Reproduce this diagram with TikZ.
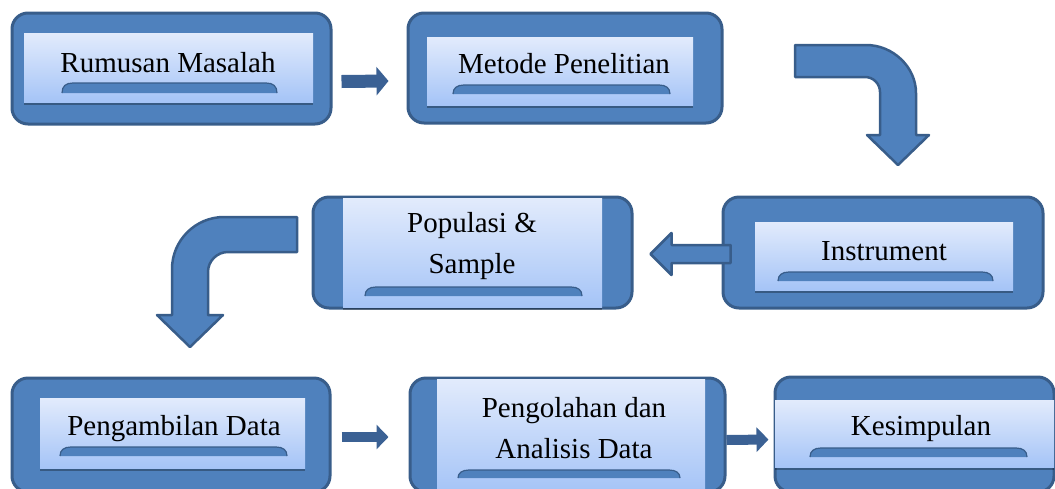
\documentclass[tikz,border=0pt]{standalone}
\usepackage{fontspec}
\setmainfont{Liberation Serif}
\usetikzlibrary{arrows.meta,calc,shadows}
\definecolor{outerfill}{HTML}{4F81BD}
\definecolor{darkline}{HTML}{385D8A}
\definecolor{innertop}{HTML}{E2EBFC}
\definecolor{innerbot}{HTML}{A5C4F7}
\definecolor{arrowcol}{HTML}{3B6194}
\tikzset{
  outerbox/.style={draw=darkline, line width=3pt, fill=outerfill, rounded corners=16pt, inner sep=0pt},
  innerbox/.style={top color=innertop, bottom color=innerbot, inner sep=0pt, draw=none,
    drop shadow={shadow xshift=0pt, shadow yshift=-2.5pt, opacity=0.3, fill=black}},
  tabfill/.style={fill=outerfill},
  tabline/.style={draw=darkline, line width=1.2pt},
  lbl/.style={font=\fontsize{29}{41}\selectfont, inner sep=0pt, align=center},
  arrowA/.style={draw=arrowcol, line width=13pt, -{Triangle[length=12pt,width=28pt]}},
  arrowB/.style={draw=arrowcol, line width=10pt, -{Triangle[length=12pt,width=24pt]}},
  blockarrow/.style={fill=outerfill, draw=darkline, line width=2.5pt, line join=round},
}
\newcommand\tabbar[4]{%
  \fill[tabfill] (#1,#4) .. controls (#1,#2+3) and (#1+4,#2) .. (#1+11,#2) -- (#3-11,#2) .. controls (#3-4,#2) and (#3,#2+3) .. (#3,#4) -- cycle;
  \draw[tabline] (#1,#4) .. controls (#1,#2+3) and (#1+4,#2) .. (#1+11,#2) -- (#3-11,#2) .. controls (#3-4,#2) and (#3,#2+3) .. (#3,#4);}
\begin{document}
\begin{tikzpicture}[x=1pt,y=-1pt]
\useasboundingbox (0,0) rectangle (1055,488);

% Box 1
\node[outerbox, minimum width=319pt, minimum height=111pt] (o1) at (171.5,68.5) {};
\node[innerbox, minimum width=289pt, minimum height=69pt] (i1) at (168.5,67.5) {};
\tabbar{62}{83}{277}{93}
\node[lbl, anchor=base] (t1) at (168,72) {Rumusan Masalah};

% Box 2
\node[outerbox, minimum width=314pt, minimum height=110pt] (o2) at (565,68) {};
\node[innerbox, minimum width=266pt, minimum height=68pt] (i2) at (560,71) {};
\tabbar{453}{85}{670}{94}
\node[lbl, anchor=base] (t2) at (564,73) {Metode Penelitian};

% Box 3
\node[outerbox, minimum width=319pt, minimum height=111pt] (o3) at (472.5,252.5) {};
\node[innerbox, minimum width=259pt, minimum height=109pt] (i3) at (472.5,252.5) {};
\tabbar{365}{287}{582}{296}
\node[lbl, anchor=base] (t3) at (472,273) {Populasi \&\\Sample};

% Box 4
\node[outerbox, minimum width=320pt, minimum height=111pt] (o4) at (883,252.5) {};
\node[innerbox, minimum width=258pt, minimum height=68pt] (i4) at (884,256) {};
\tabbar{778}{272}{993}{281}
\node[lbl, anchor=base] (t4) at (884,260) {Instrument};

% Box 5
\node[outerbox, minimum width=318pt, minimum height=114pt] (o5) at (171,435) {};
\node[innerbox, minimum width=265pt, minimum height=70pt] (i5) at (172.5,433) {};
\tabbar{60}{447}{287}{456}
\node[lbl, anchor=base] (t5) at (174,435) {Pengambilan Data};

% Box 6
\node[outerbox, minimum width=315pt, minimum height=114pt] (o6) at (567.5,435) {};
\node[innerbox, minimum width=268pt, minimum height=113pt] (i6) at (571,435.5) {};
\tabbar{458}{470}{680}{478}
\node[lbl, anchor=base] (t6) at (574,458) {Pengolahan dan\\Analisis Data};

% Box 7
\node[outerbox, minimum width=279pt, minimum height=115pt] (o7) at (914.5,434.5) {};
\node[innerbox, minimum width=279pt, minimum height=67pt] (i7) at (914.5,433.5) {};
\tabbar{810}{448}{1027}{457}
\node[lbl, anchor=base] (t7) at (921,435) {Kesimpulan};

% straight arrows
\draw[arrowA] ($(o1.east)+(9,13)$) -- ($(o2.west)+(-18,13)$);
\draw[arrowB] ($(o5.east)+(10,2)$) -- ($(o6.west)+(-20,2)$);
\draw[arrowB] ($(o6.east)+(0,5)$) -- ($(o7.west)+(-5,5)$);

% bent arrow o2 -> o4
\draw[blockarrow] (795,45) -- (866,45) .. controls (893,45) and (916,67) .. (916,93) -- (916,135) -- (929,135) -- (898,165) -- (867,135) -- (880,135) -- (880,92) .. controls (880,83.7) and (873.3,77) .. (865,77) -- (795,77) -- cycle;

% hollow arrow o4 -> o3
\coordinate (h3) at ($(o3.east)+(17,1.5)$);
\draw[blockarrow] (h3) -- ++(21,-21) -- ++(0,12) -- ++(59,0) -- ++(0,18) -- ++(-59,0) -- ++(0,12) -- cycle;

% bent arrow o3 -> o5
\draw[blockarrow] (297,217) -- (224,217) .. controls (195.4,217) and (172,240.4) .. (172,269) -- (172,315) -- (157,315) -- (190,347) -- (223,315) -- (208,315) -- (208,272) .. controls (208,261) and (217,252) .. (228,252) -- (297,252) -- cycle;
\end{tikzpicture}
\end{document}
